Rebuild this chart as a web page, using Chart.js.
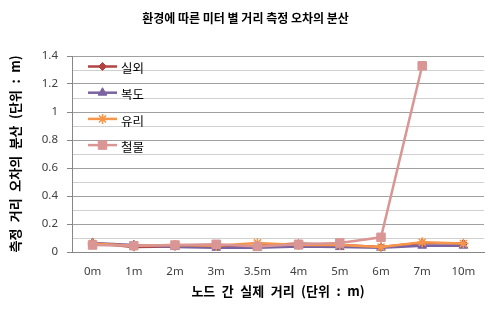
<!DOCTYPE html>
<html>
<head>
<meta charset="utf-8">
<script src="https://cdn.jsdelivr.net/npm/chart.js@4.4.1/dist/chart.umd.min.js"></script>
<style>
  html, body { margin: 0; padding: 0; background: #fff; overflow: hidden; }
  #wrap { width: 491px; height: 324px; }
</style>
</head>
<body>
<div id="wrap"><canvas id="c" width="491" height="324"></canvas></div>
<script>
// Node-to-node distance categories
const distances = ['0m', '1m', '2m', '3m', '3.5m', '4m', '5m', '6m', '7m', '10m'];

// Variance of the distance measurement error per environment (unit: m)
const outdoor = [0.065, 0.035, 0.04, 0.04, 0.045, 0.06, 0.05, 0.035, 0.065, 0.06];
const hallway = [0.065, 0.05, 0.035, 0.03, 0.03, 0.04, 0.035, 0.03, 0.045, 0.045];
const glass   = [0.06, 0.045, 0.05, 0.045, 0.065, 0.05, 0.05, 0.035, 0.07, 0.06];
const metal   = [0.05, 0.045, 0.05, 0.055, 0.04, 0.055, 0.065, 0.105, 1.33, null];

const seriesNames = ['실외', '복도', '유리', '철물'];

// y axis: labelled every 0.2, light minor lines every 0.1
const yMax = 1.4;
const yStep = 0.1;

const FONT = '"Noto Sans", "Noto Sans CJK KR", sans-serif';
const KFONT = '"Noto Sans CJK KR", sans-serif';

// axis titles use en spaces between words
const wide = (s) => s.replace(/ /g, '\u2002');

function series(label, data, color, style, radius, order) {
  return {
    label, data, order,
    borderColor: color,
    backgroundColor: color,
    borderWidth: 2.5,
    pointStyle: style,
    pointRadius: radius,
    pointBackgroundColor: color,
    pointBorderColor: color,
    pointBorderWidth: style === 'star' ? 1.5 : 1,
    tension: 0,
    fill: false
  };
}

// Legend drawn inside the plot, top-left, one entry per row
const insideLegend = {
  id: 'insideLegend',
  afterDatasetsDraw(chart) {
    const { ctx, chartArea } = chart;
    const x0 = chartArea.left + 16;
    const y0 = chartArea.top + 10.5;
    chart.data.datasets.forEach((ds, i) => {
      const y = y0 + i * 26.2;
      ctx.save();
      ctx.strokeStyle = ds.borderColor;
      ctx.lineWidth = ds.borderWidth;
      ctx.beginPath();
      ctx.moveTo(x0, y);
      ctx.lineTo(x0 + 29, y);
      ctx.stroke();
      ctx.fillStyle = ds.pointBackgroundColor;
      ctx.strokeStyle = ds.pointBorderColor;
      ctx.lineWidth = ds.pointBorderWidth;
      Chart.helpers.drawPoint(ctx, {
        pointStyle: ds.pointStyle, radius: ds.pointRadius, rotation: 0, borderWidth: ds.pointBorderWidth
      }, x0 + 14.5, y);
      ctx.fillStyle = '#000';
      ctx.font = '12.5px ' + KFONT;
      ctx.textBaseline = 'middle';
      ctx.textAlign = 'left';
      ctx.fillText(ds.label, x0 + 33, y + 2);
      ctx.restore();
    });
  }
};

new Chart(document.getElementById('c'), {
  type: 'line',
  data: {
    labels: distances,
    datasets: [
      series(seriesNames[0], outdoor, '#B04543', 'rectRot', 4, 4),
      series(seriesNames[1], hallway, '#7B62A0', 'triangle', 5, 3),
      series(seriesNames[2], glass, '#F7964A', 'star', 5, 2),
      series(seriesNames[3], metal, '#D99694', 'rect', 6, 1)
    ]
  },
  options: {
    responsive: false,
    animation: false,
    events: [],
    layout: { padding: 0 },
    plugins: {
      legend: { display: false },
      tooltip: { enabled: false },
      title: {
        display: true,
        text: '환경에 따른 미터 별 거리 측정 오차의 분산',
        color: '#000',
        font: { family: KFONT, size: 12, weight: 'bold' },
        padding: { top: 11, bottom: 30.6 }
      }
    },
    scales: {
      x: {
        offset: true,
        grid: { display: false, drawTicks: false },
        border: { display: true, color: '#868686', width: 1 },
        ticks: { color: '#404040', font: { family: FONT, size: 11.5 }, padding: 13, autoSkip: false, maxRotation: 0 },
        title: {
          display: true,
          text: wide('노드 간 실제 거리 (단위 : m)'),
          color: '#000',
          font: { family: KFONT, size: 13, weight: 'bold' },
          padding: { top: 0, bottom: 25.5 }
        },
        afterFit(scale) {
          scale.height = 72;
          scale.paddingLeft = 0;
          scale.paddingRight = 0;
        }
      },
      y: {
        min: 0,
        max: yMax,
        grid: {
          color: (c) => (c.index % 2 ? '#D0D0D0' : '#A0A0A0'),
          tickColor: (c) => (c.index % 2 ? 'rgba(0,0,0,0)' : '#868686'),
          tickLength: 5,
          lineWidth: 1
        },
        border: { display: true, color: '#868686', width: 1 },
        ticks: {
          stepSize: yStep,
          autoSkip: false,
          color: '#404040',
          font: { family: FONT, size: 11.5 },
          padding: 9,
          callback: (v, i) => (i % 2 ? '' : String(Number(v.toFixed(1))))
        },
        title: {
          display: true,
          text: wide('측정 거리 오차의 분산 (단위 : m)'),
          color: '#000',
          font: { family: KFONT, size: 13, weight: 'bold' },
          padding: { top: 7, bottom: 0 }
        },
        afterFit(scale) {
          scale.width = 72;
          scale.paddingTop = 0;
          scale.paddingBottom = 0;
        }
      }
    }
  },
  plugins: [insideLegend]
});
</script>
</body>
</html>
